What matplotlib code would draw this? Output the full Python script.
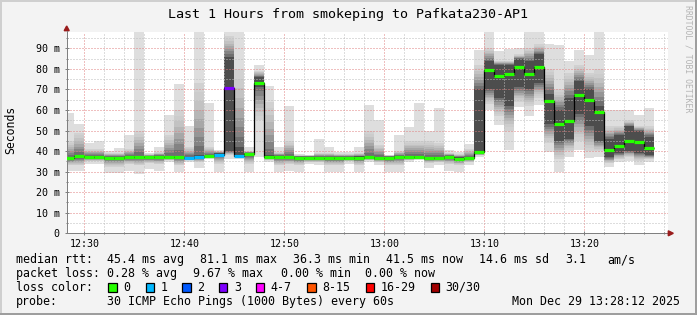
import matplotlib
matplotlib.use("Agg")
import matplotlib.pyplot as plt
from matplotlib.patches import Rectangle, Polygon
from matplotlib.lines import Line2D
import numpy as np

W, H = 697, 315
MONO = "DejaVu Sans Mono"

title = "Last 1 Hours from smokeping to Pafkata230-AP1"
ylabel = "Seconds"
side_text = "RRDTOOL / TOBI OETIKER"

# bar end times, minutes after 12:00 (12:29 ... 13:27), one probe every 60 s
end_min = list(range(29, 88))

median = [36.6, 37.4, 37.1, 37.1, 36.6, 36.6, 37.0, 37.1, 36.9, 37.0,
          37.1, 37.1, 36.6, 37.3, 37.6, 38.3, 70.6, 37.6, 38.5, 73.2,
          37.2, 37.0, 37.0, 36.6, 36.6, 36.6, 36.6, 36.6, 36.6, 36.7,
          37.0, 36.6, 36.6, 37.0, 37.0, 37.0, 36.6, 36.6, 37.0, 36.3,
          36.6, 39.8, 79.4, 76.6, 77.6, 81.1, 77.6, 81.0, 64.6, 53.1,
          54.4, 67.2, 64.7, 58.8, 40.7, 42.7, 44.8, 44.3, 41.5]

loss = [0, 0, 0, 0, 0, 0, 0, 0, 0, 0,
        0, 0, 1, 1, 0, 1, 3, 1, 0, 0,
        0, 0, 0, 0, 0, 0, 0, 0, 0, 0,
        0, 0, 0, 0, 0, 0, 0, 0, 0, 0,
        0, 0, 0, 0, 0, 0, 0, 0, 0, 0,
        0, 0, 0, 0, 0, 0, 0, 0, 0]

rtt_max = [58.7, 53.0, 43.8, 44.8, 40.2, 41.4, 47.6, 99, 39.0, 41.9,
           57.4, 72.5, 52.0, 99, 63.4, 40.7, 99, 99, 42.2, 81.8,
           71.6, 41.9, 61.8, 38.7, 38.3, 46.1, 41.9, 39.4, 39.4, 42.2,
           62.3, 55.3, 38.3, 47.6, 51.5, 63.4, 50.0, 61.0, 40.7, 39.4,
           43.5, 89.2, 99, 88.7, 89.7, 90.0, 99, 99, 92.1, 91.6,
           84.0, 89.2, 86.7, 99, 60.1, 59.8, 60.1, 57.4, 61.1]

rtt_hi = [45, 49, 41, 41, 39, 39, 41, 50, 38.5, 39.5,
          48, 60, 42, 73, 42, 40, 96, 80, 40, 79,
          64, 39.5, 45, 38, 38, 39, 39, 38.5, 38.5, 39,
          50, 43, 38, 40, 45, 45, 45, 44, 39, 38.5,
          41, 82, 90, 84, 84, 87, 90, 92, 80, 70,
          78, 82, 78, 80, 52, 52, 55, 52, 52]

rtt_q3 = [37.3, 38.1, 37.8, 37.8, 37.3, 37.3, 37.7, 37.8, 37.6, 37.7,
          37.8, 37.8, 37.3, 38.0, 38.3, 39.0, 86, 42, 39.2, 76,
          37.9, 37.7, 37.7, 37.3, 37.3, 37.3, 37.3, 37.3, 37.3, 37.4,
          37.7, 37.3, 37.3, 37.7, 37.7, 37.7, 37.3, 37.3, 37.7, 37.0,
          37.3, 70, 84, 82, 82, 85, 84, 87, 68, 60,
          66, 74, 70, 62, 46, 48, 52, 50, 47]

rtt_q1 = [36.0, 36.8, 36.5, 36.5, 36.0, 36.0, 36.4, 36.5, 36.3, 36.4,
          36.5, 36.5, 36.0, 36.7, 37.0, 37.7, 40, 37.0, 37.9, 71,
          36.6, 36.4, 36.4, 36.0, 36.0, 36.0, 36.0, 36.0, 36.0, 36.1,
          36.4, 36.0, 36.0, 36.4, 36.4, 36.4, 36.0, 36.0, 36.4, 35.7,
          36.0, 38.6, 70, 66, 62, 71, 70, 73, 53, 45,
          46, 58, 52, 45, 37, 39, 40, 39, 38]

rtt_lo = [33, 33, 35, 35, 32.5, 32.5, 33.5, 33, 34, 33.5,
          35.5, 33, 35.5, 34.5, 36.5, 33.5, 38, 37, 33.5, 55,
          35.5, 33, 33.5, 33, 34.5, 34.5, 33, 33, 35, 33,
          35.5, 34.5, 33, 33, 35.5, 36.0, 34, 34.5, 33.5, 33,
          34.5, 38, 63, 57, 50, 64, 62, 66, 44, 36,
          40, 45, 40, 40, 34, 36, 37, 35, 36]

rtt_min = [30.5, 30.5, 33.5, 33.5, 29.5, 29.5, 30.5, 29.0, 31.3, 30.1,
           34.5, 29.6, 34.5, 32.0, 36.2, 29.6, 36.0, 36.2, 29.6, 37.0,
           34.5, 29.6, 30.5, 29.6, 33.5, 33.0, 29.6, 29.6, 33.7, 29.6,
           34.5, 33.0, 29.6, 29.6, 34.5, 35.8, 32.0, 33.0, 30.5, 29.6,
           33.2, 37.0, 59.8, 52.8, 40.6, 61.5, 56.9, 62.3, 39.4, 29.6,
           37.0, 40.6, 36.5, 37.0, 32.1, 34.5, 35.4, 33.2, 34.5]

ytick_vals = [0, 10, 20, 30, 40, 50, 60, 70, 80, 90]
ytick_labels = ["0", "10 m", "20 m", "30 m", "40 m", "50 m", "60 m", "70 m", "80 m", "90 m"]
xtick_vals = [30, 40, 50, 60, 70, 80]
xtick_labels = ["12:30", "12:40", "12:50", "13:00", "13:10", "13:20"]

loss_classes = ["0", "1", "2", "3", "4-7", "8-15", "16-29", "30/30"]
loss_colors = ["#26ff00", "#00b8ff", "#0059ff", "#7e00ff", "#ff00ff", "#ff5500", "#ff0000", "#a10000"]

rtt_row = ["45.4 ms avg", "81.1 ms max", "36.3 ms min", "41.5 ms now", "14.6 ms sd", "3.1", "am/s"]
rtt_row_x = [107, 200, 293, 386, 479, 565, 607]
loss_row = ["0.28 % avg", "9.67 % max", "0.00 % min", "0.00 % now"]
loss_row_x = [107, 193, 281, 365]
probe_text = "30 ICMP Echo Pings (1000 Bytes) every 60s"
date_text = "Mon Dec 29 13:28:12 2025"


def loss_color(n):
    if n <= 3:
        return loss_colors[n]
    if n <= 7:
        return loss_colors[4]
    if n <= 15:
        return loss_colors[5]
    if n <= 29:
        return loss_colors[6]
    return loss_colors[7]


def fx(x):
    return x / W


def fy(y):
    return 1 - y / H


fig = plt.figure(figsize=(W / 100, H / 100), dpi=100)
fig.patch.set_facecolor("#f3f3f3")

ax_l, ax_r, ax_t, ax_b = 66.7, 668.3, 32.3, 233.3
ax = fig.add_axes([fx(ax_l), fy(ax_b), (ax_r - ax_l) / W, (ax_b - ax_t) / H])
ax.set_facecolor("white")
ax.set_xlim(28.24, 88.40)
ax.set_ylim(0, 97.8)

left_edges = np.array(end_min) - 1
mn, lo, q1, q3, hi, mx = (np.array(a, dtype=float) for a in (rtt_min, rtt_lo, rtt_q1, rtt_q3, rtt_hi, rtt_max))

# smoke: outer light band, graded inner bands, dark core
ax.bar(left_edges, mx - mn, bottom=mn, width=1.0, align="edge", color="#dedede",
       linewidth=0, antialiased=False, zorder=1)
L = 8
for j in range(L):
    t = j / L
    b = lo + (q1 - lo) * t
    tp = hi - (hi - q3) * t
    g = 0.82 - 0.47 * t ** 1.5
    ax.bar(left_edges, tp - b, bottom=b, width=1.0, align="edge", color=str(round(g, 3)),
           linewidth=0, antialiased=False, zorder=1)
ax.bar(left_edges, q3 - q1, bottom=q1, width=1.0, align="edge", color="0.30",
       linewidth=0, antialiased=False, zorder=1)

# median line and loss-coloured segments
ax.stairs(median, edges=[end_min[0] - 1] + end_min, baseline=None, color="black", lw=0.9, zorder=3)
ax.hlines(median, left_edges, end_min, colors=[loss_color(n) for n in loss], lw=2.3, zorder=4)

# grid
ax.set_xticks(xtick_vals)
ax.set_xticklabels(xtick_labels, family=MONO, fontsize=7.2)
ax.set_xticks(np.arange(30, 89, 2), minor=True)
ax.set_yticks(ytick_vals)
ax.set_yticklabels(ytick_labels, family=MONO, fontsize=7.2)
ax.set_yticks(np.arange(5, 98, 5), minor=True)
ax.set_axisbelow(False)
ax.grid(which="minor", color="#bdbdbd", linestyle=(0, (1, 2)), linewidth=0.72, snap=True)
ax.grid(which="major", color="#e08080", linestyle=(0, (1, 2)), linewidth=0.72, snap=True)

for s in ("top", "right"):
    ax.spines[s].set_visible(False)
for s in ("left", "bottom"):
    ax.spines[s].set_color("#808080")
    ax.spines[s].set_linewidth(0.72)
ax.tick_params(which="both", direction="inout", color="#808080", width=0.72)
ax.tick_params(which="major", length=3)
ax.tick_params(which="minor", length=2)
ax.tick_params(axis="y", which="major", pad=3.6)
ax.tick_params(axis="x", which="major", pad=2.4)

# axis extensions and arrows
fig.add_artist(Line2D([fx(ax_l), fx(ax_l)], [fy(ax_t), fy(30.5)], color="#808080", lw=0.72))
fig.add_artist(Polygon([(fx(64.2), fy(30.7)), (fx(69.2), fy(30.7)), (fx(66.7), fy(26.0))],
                       closed=True, color="#9a1c1c", transform=fig.transFigure))
fig.add_artist(Polygon([(fx(668.3), fy(230.8)), (fx(668.3), fy(235.8)), (fx(673.3), fy(233.3))],
                       closed=True, color="#9a1c1c", transform=fig.transFigure))

# frame
fig.add_artist(Rectangle((0, fy(1.5)), 1, 1.5 / H, color="#cfcfcf", transform=fig.transFigure, lw=0))
fig.add_artist(Rectangle((0, 0), 1.5 / W, 1, color="#cfcfcf", transform=fig.transFigure, lw=0))
fig.add_artist(Rectangle((0, 0), 1, 2.5 / H, color="#9e9e9e", transform=fig.transFigure, lw=0))
fig.add_artist(Rectangle((fx(W - 2.5), 0), 2.5 / W, 1, color="#9e9e9e", transform=fig.transFigure, lw=0))

# texts
fig.text(fx(348), fy(18), title, ha="center", va="baseline", family=MONO, fontsize=9.6)
fig.text(fx(11), fy(130), ylabel, rotation=90, ha="center", va="center", family=MONO, fontsize=8.3)
fig.text(fx(688), fy(59), side_text, rotation=270, ha="center", va="center", family=MONO,
         fontsize=5.9, color="#b4b4b4")

LEG = 8.4
fig.text(fx(16), fy(263.3), "median rtt:", family=MONO, fontsize=LEG, va="baseline")
for s, x in zip(rtt_row, rtt_row_x):
    fig.text(fx(x), fy(263.3), s, family=MONO, fontsize=LEG, va="baseline")
fig.text(fx(16), fy(277.3), "packet loss:", family=MONO, fontsize=LEG, va="baseline")
for s, x in zip(loss_row, loss_row_x):
    fig.text(fx(x), fy(277.3), s, family=MONO, fontsize=LEG, va="baseline")
fig.text(fx(16), fy(290.7), "loss color:", family=MONO, fontsize=LEG, va="baseline")
box_x = [108.3, 145.7, 182.3, 219.0, 255.7, 307.3, 365.7, 430.7]
for bx, lab, col in zip(box_x, loss_classes, loss_colors):
    fig.add_artist(Rectangle((fx(bx), fy(291.5)), 8.3 / W, 9 / H, facecolor=col, edgecolor="black",
                             lw=0.9, transform=fig.transFigure))
    fig.text(fx(bx + 15), fy(290.7), lab, family=MONO, fontsize=LEG, va="baseline")
fig.text(fx(16), fy(305.3), "probe:", family=MONO, fontsize=LEG, va="baseline")
fig.text(fx(107), fy(305.3), probe_text, family=MONO, fontsize=LEG, va="baseline")
fig.text(fx(680.5), fy(305.3), date_text, family=MONO, fontsize=LEG, va="baseline", ha="right")

fig.savefig("out.png", dpi=100, facecolor=fig.get_facecolor())
